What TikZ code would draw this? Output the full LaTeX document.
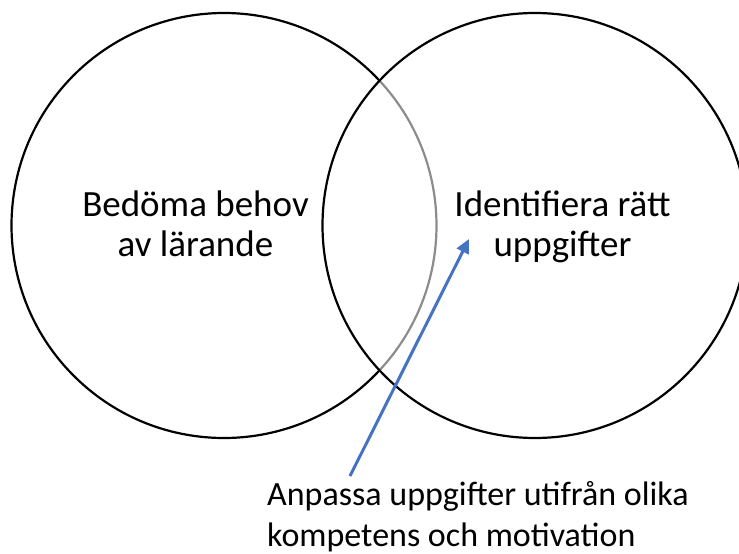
\documentclass[tikz,border=0pt]{standalone}
\usepackage{fontspec}
\setmainfont{Carlito}
\usetikzlibrary{arrows.meta,positioning}
\definecolor{arrowblue}{HTML}{4472C4}
\definecolor{overlapgray}{HTML}{8C8C8C}
\tikzset{
    ring/.style = {draw, line width=2.2pt},
    inner ring/.style = {draw=overlapgray, line width=2.2pt},
    caption/.style = {font=\fontsize{37}{40}\selectfont, align=center, inner sep=0pt},
    note/.style = {font=\fontsize{34}{40}\selectfont, align=left, inner sep=0pt, anchor=north west},
    pointer/.style = {draw=arrowblue, line width=3pt, -{Triangle[length=14pt,width=13pt]}}
}
\begin{document}
\begin{tikzpicture}[x=1pt, y=-1pt]
        \useasboundingbox (0,0) rectangle (739,554);
        \clip (0,0) rectangle (739,554);
        \coordinate (lcentre) at (224,225.5);
        \coordinate (rcentre) at (535,225.5);
        \draw [ring] (lcentre) ++(43:212.5) arc[start angle=43, end angle=317, radius=212.5];
        \draw [inner ring] (lcentre) ++(-43:212.5) arc[start angle=-43, end angle=43, radius=212.5];
        \draw [ring] (rcentre) circle[radius=212.5];
        \node [caption] (assess) at (195.5,224) {Bedöma behov\\av lärande};
        \node [caption] (identify) at (562.5,227) {Identifiera rätt\\uppgifter};
        \node [note] (adapt) at (267,481) {Anpassa uppgifter utifrån olika\\[1pt]kompetens och motivation};
        \coordinate (tail) at (350,476);
        \coordinate (tip) at (469,239);
        \draw [pointer] (tail) -- (tip);
\end{tikzpicture}
\end{document}
